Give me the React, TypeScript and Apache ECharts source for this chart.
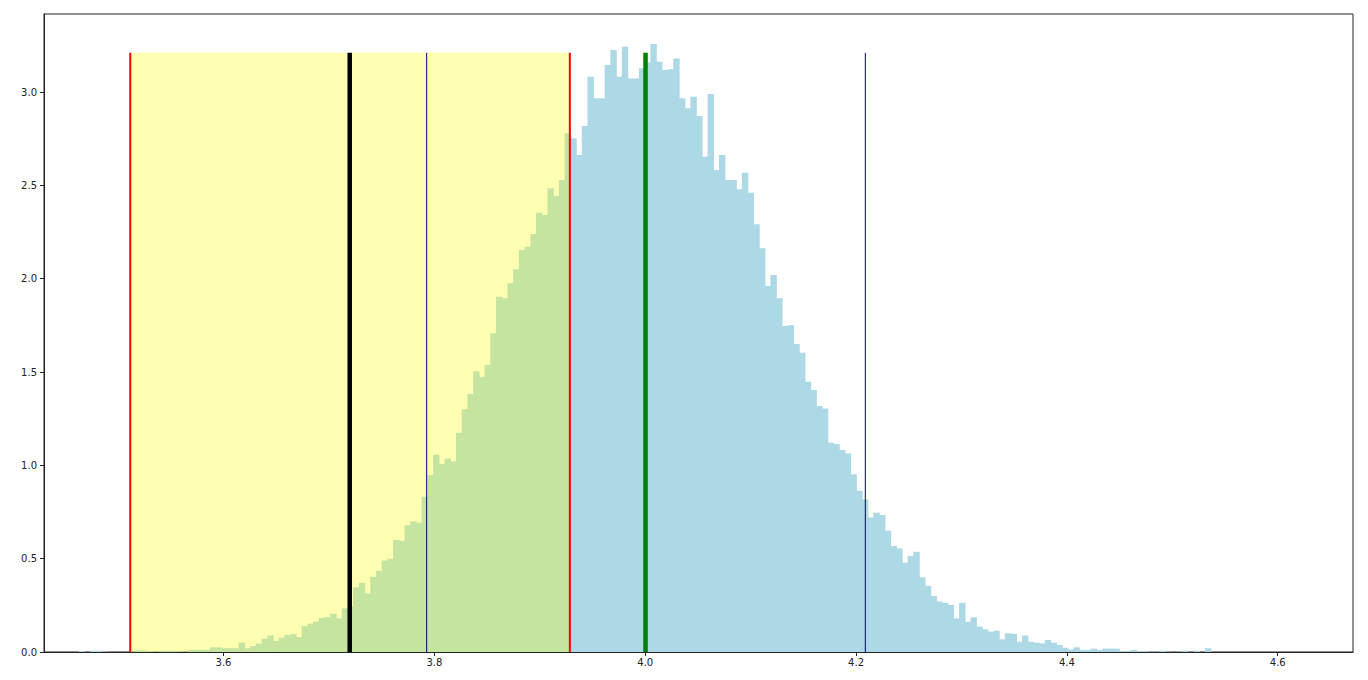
import { useEffect, useRef } from 'react';
import * as echarts from 'echarts';

// histogram: 200 equal bins, density values
const binStart = 3.4626;
const binWidth = 0.005423;
const density = [
  0.005, 0, 0.007, 0.007, 0.002, 0, 0, 0, 0, 0.003,
  0.009, 0.009, 0.005, 0.002, 0.007, 0.007, 0.007, 0.004, 0.002, 0.01,
  0.012, 0.012, 0.012, 0.025, 0.025, 0.02, 0.02, 0.02, 0.05, 0.02,
  0.032, 0.045, 0.071, 0.089, 0.059, 0.077, 0.091, 0.096, 0.08, 0.139,
  0.152, 0.163, 0.183, 0.187, 0.205, 0.18, 0.234, 0.246, 0.347, 0.371,
  0.314, 0.403, 0.435, 0.49, 0.5, 0.6, 0.596, 0.679, 0.7, 0.693,
  0.832, 0.948, 1.057, 1.007, 1.036, 1.022, 1.175, 1.3, 1.382, 1.504,
  1.475, 1.537, 1.707, 1.903, 1.895, 1.975, 2.05, 2.154, 2.171, 2.239,
  2.353, 2.341, 2.484, 2.443, 2.529, 2.779, 2.752, 2.662, 2.818, 3.082,
  2.966, 2.966, 3.145, 3.225, 3.082, 3.243, 3.073, 3.073, 3.127, 3.16,
  3.257, 3.162, 3.118, 3.122, 3.18, 2.966, 2.913, 2.975, 2.871, 2.653,
  2.989, 2.582, 2.662, 2.529, 2.529, 2.479, 2.568, 2.461, 2.291, 2.163,
  1.961, 2.02, 1.895, 1.746, 1.75, 1.65, 1.603, 1.448, 1.404, 1.318,
  1.305, 1.121, 1.115, 1.082, 1.064, 0.952, 0.864, 0.818, 0.721, 0.746,
  0.734, 0.65, 0.568, 0.555, 0.478, 0.514, 0.537, 0.4, 0.354, 0.3,
  0.27, 0.263, 0.252, 0.18, 0.263, 0.162, 0.186, 0.136, 0.121, 0.109,
  0.114, 0.068, 0.1, 0.097, 0.055, 0.088, 0.055, 0.05, 0.046, 0.064,
  0.05, 0.038, 0.023, 0.014, 0.025, 0.011, 0.011, 0.018, 0.011, 0.018,
  0.018, 0.018, 0.005, 0.005, 0.011, 0.005, 0.005, 0.002, 0.002, 0.007,
  0.002, 0, 0.002, 0.007, 0, 0.007, 0, 0.02, 0, 0,
];

// shaded interval and vertical markers
const spanFrom = 3.5115;
const spanTo = 3.9285;
const lineTop = 3.21;
const vlineX = [3.5115, 3.9285, 3.7197, 3.7927, 4.0003, 4.2088];
const vlineColor = ['#ff0000', '#ff0000', '#000000', '#000080', '#008000', '#000080'];
const vlineWidth = [2, 2, 4.5, 1, 4.5, 1];

const xTicks = [3.6, 3.8, 4.0, 4.2, 4.4, 4.6];
const yTicks = [0, 0.5, 1.0, 1.5, 2.0, 2.5, 3.0];
const xMin = 3.4297;
const xMax = 4.6714;
const yMax = 3.418;

// overlap: extra px added to bar width so neighbouring bars have no seam
function rectItem(api: any, fill: string, overlap: number) {
  const p0 = api.coord([api.value(0), api.value(2)]);
  const p1 = api.coord([api.value(1), 0]);
  return {
    type: 'rect',
    shape: { x: p0[0], y: p0[1], width: p1[0] - p0[0] + overlap, height: p1[1] - p0[1] },
    style: { fill },
  };
}

function App() {
  const chartRef = useRef<HTMLDivElement>(null);

  useEffect(() => {
    document.body.style.margin = '0';
    if (!chartRef.current) return;
    const chart = echarts.init(chartRef.current, null, { renderer: 'svg' });

    const bins = density.map((h, i) => [binStart + i * binWidth, binStart + (i + 1) * binWidth, h]);
    const lines = vlineX.map((x, i) => [x, lineTop, i]);
    const labelStyle = { fontFamily: 'DejaVu Sans', fontSize: 10, color: '#222' };

    const option: echarts.EChartsOption = {
      animation: false,
      backgroundColor: '#fff',
      grid: { left: 44, top: 14, width: 1309, height: 638, show: true, borderColor: '#222', borderWidth: 1 },
      xAxis: {
        type: 'value',
        min: xMin,
        max: xMax,
        splitLine: { show: false },
        axisLine: { show: true, lineStyle: { color: '#222', width: 1 } },
        axisTick: { show: true, length: 4, customValues: xTicks, lineStyle: { color: '#222' } },
        axisLabel: { ...labelStyle, margin: 5, customValues: xTicks, formatter: (v: number) => v.toFixed(1) },
      },
      yAxis: {
        type: 'value',
        min: 0,
        max: yMax,
        splitLine: { show: false },
        axisLine: { show: true, lineStyle: { color: '#222', width: 1 } },
        axisTick: { show: true, length: 4, customValues: yTicks, lineStyle: { color: '#222' } },
        axisLabel: { ...labelStyle, margin: 7, customValues: yTicks, formatter: (v: number) => v.toFixed(1) },
      },
      series: [
        {
          type: 'custom',
          z: 1,
          clip: true,
          data: bins,
          encode: { x: [0, 1], y: 2 },
          renderItem: (_params: any, api: any) =>
            api.value(2) > 0 ? rectItem(api, '#add8e6', 0.7) : { type: 'group', children: [] },
        },
        {
          type: 'custom',
          z: 2,
          clip: true,
          data: [[spanFrom, spanTo, lineTop]],
          encode: { x: [0, 1], y: 2 },
          renderItem: (_params: any, api: any) => rectItem(api, 'rgba(255,255,0,0.3)', 0),
        },
        {
          type: 'custom',
          z: 3,
          clip: true,
          data: lines,
          encode: { x: 0, y: 1 },
          renderItem: (_params: any, api: any) => {
            const i = api.value(2);
            const top = api.coord([api.value(0), api.value(1)]);
            const bottom = api.coord([api.value(0), 0]);
            return {
              type: 'line',
              shape: { x1: top[0], y1: top[1], x2: bottom[0], y2: bottom[1] },
              style: { stroke: vlineColor[i], lineWidth: vlineWidth[i] },
            };
          },
        },
      ],
    };

    chart.setOption(option);

    return () => {
      chart.dispose();
    };
  }, []);

  return <div ref={chartRef} style={{ width: '1368px', height: '680px' }} />;
}

export default App;
